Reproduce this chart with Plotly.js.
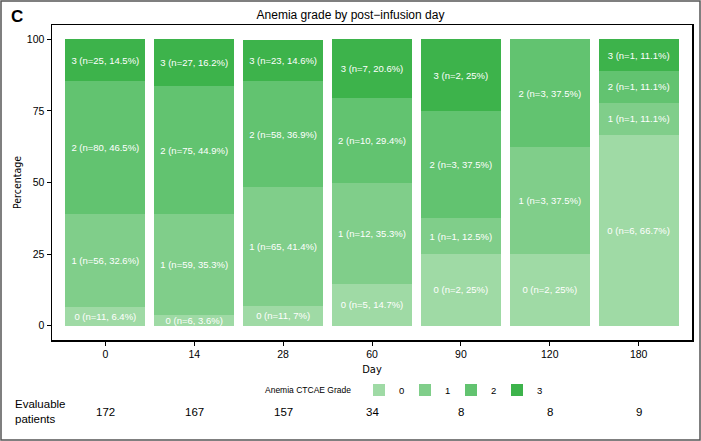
<!DOCTYPE html>
<html>
<head>
<meta charset="utf-8">
<script src="https://cdn.plot.ly/plotly-3.0.1.min.js"></script>
<style>html,body{margin:0;padding:0;background:#fff;}#chart{width:701px;height:441px;}</style>
</head>
<body>
<div id="chart"></div>
<script>
var days = ["0", "14", "28", "60", "90", "120", "180"];
var grades = ["0", "1", "2", "3"];
var counts0 = [11, 6, 11, 5, 2, 2, 6];
var counts1 = [56, 59, 65, 12, 1, 3, 1];
var counts2 = [80, 75, 58, 10, 3, 3, 1];
var counts3 = [25, 27, 23, 7, 2, 0, 1];
var pct0 = [6.4, 3.6, 7, 14.7, 25, 25, 66.7];
var pct1 = [32.6, 35.3, 41.4, 35.3, 12.5, 37.5, 11.1];
var pct2 = [46.5, 44.9, 36.9, 29.4, 37.5, 37.5, 11.1];
var pct3 = [14.5, 16.2, 14.6, 20.6, 25, 0, 11.1];
var evaluable = [172, 167, 157, 34, 8, 8, 9];
var colors = ["#9fdaa5", "#80ce8a", "#62c370", "#3db34b"];

var counts = [counts0, counts1, counts2, counts3];
var pcts = [pct0, pct1, pct2, pct3];
var baseFont = "Liberation Sans, Arial, Helvetica, sans-serif";
var condFont = "Liberation Sans Narrow, DejaVu Sans Condensed, sans-serif";

var traces = grades.map(function (g, i) {
  return {
    type: "bar",
    name: g,
    x: days,
    y: pcts[i],
    text: counts[i].map(function (n, j) {
      return n > 0 ? g + " (n=" + n + ", " + pcts[i][j] + "%)" : "";
    }),
    textposition: "inside",
    insidetextanchor: "middle",
    textangle: 0,
    constraintext: "none",
    textfont: { color: "#ffffff", size: 9.5, family: baseFont },
    marker: { color: colors[i], line: { width: 0 } },
    hoverinfo: "skip"
  };
});

var W = 640, H = 315, L = 52, T = 25;
function px(xp) { return (xp - L) / W; }
function py(yp) { return (T + H - yp) / H; }

var annotations = [
  { text: "<b>C</b>", xref: "paper", yref: "paper", x: px(9), y: py(16), xanchor: "left", yanchor: "middle",
    showarrow: false, font: { size: 17, family: baseFont, color: "#000" } },
  { text: "Evaluable<br>patients", xref: "paper", yref: "paper", x: px(13), y: py(411), xanchor: "left", yanchor: "middle",
    align: "left", showarrow: false, font: { size: 11.5, family: baseFont, color: "#000" } },
  { text: "Anemia CTCAE Grade", xref: "paper", yref: "paper", x: px(353), y: py(390), xanchor: "right", yanchor: "middle",
    showarrow: false, font: { size: 8.5, family: baseFont, color: "#000" } }
];
days.forEach(function (d, j) {
  annotations.push({ text: String(evaluable[j]), xref: "x", yref: "paper", x: j, y: py(412),
    xanchor: "center", yanchor: "middle", showarrow: false, font: { size: 11.5, family: baseFont, color: "#000" } });
});

var layout = {
  width: 701, height: 441,
  margin: { l: L, r: 701 - L - W, t: T, b: 441 - T - H, pad: 0 },
  paper_bgcolor: "#ffffff", plot_bgcolor: "#ffffff",
  barmode: "stack", bargap: 0.1,
  showlegend: true,
  hovermode: false,
  uniformtext: { minsize: 9.5, mode: "show" },
  font: { family: baseFont, color: "#000" },
  title: { text: "Anemia grade by post\u2212infusion day", xref: "container", yref: "container",
    x: 0.5, xanchor: "center", y: 1 - 15 / 441, yanchor: "middle", font: { size: 12, family: baseFont, color: "#000" } },
  xaxis: {
    type: "category", range: [-0.6, 6.6], fixedrange: true,
    showline: true, mirror: true, linecolor: "#000", linewidth: 1.5,
    ticks: "outside", ticklen: 4, tickwidth: 1, tickcolor: "#000",
    tickfont: { size: 10.5, family: baseFont, color: "#000" },
    showgrid: false, zeroline: false,
    title: { text: "Day", standoff: 6, font: { size: 11, family: condFont, color: "#000" } },
    automargin: false
  },
  yaxis: {
    range: [-5, 105], fixedrange: true,
    tickvals: [0, 25, 50, 75, 100],
    showline: true, mirror: true, linecolor: "#000", linewidth: 1.5,
    ticks: "outside", ticklen: 4, tickwidth: 1, tickcolor: "#000",
    tickfont: { size: 10.5, family: baseFont, color: "#000" },
    showgrid: false, zeroline: false,
    title: { text: "Percentage", standoff: 3, font: { size: 10.5, family: condFont, color: "#000" } },
    automargin: false
  },
  legend: {
    orientation: "h", x: px(359), xanchor: "left", y: py(390), yanchor: "middle",
    traceorder: "normal",
    font: { size: 9.5, family: baseFont, color: "#000" },
    itemwidth: 30, entrywidth: 1, entrywidthmode: "pixels", bgcolor: "rgba(0,0,0,0)"
  },
  shapes: [
    { type: "rect", xref: "paper", yref: "paper", x0: px(1), x1: px(700), y0: py(440), y1: py(1),
      line: { color: "#555", width: 1.5 }, fillcolor: "rgba(0,0,0,0)", layer: "below" }
  ],
  annotations: annotations
};

Plotly.newPlot("chart", traces, layout, { displayModeBar: false, staticPlot: true });
</script>
</body>
</html>
